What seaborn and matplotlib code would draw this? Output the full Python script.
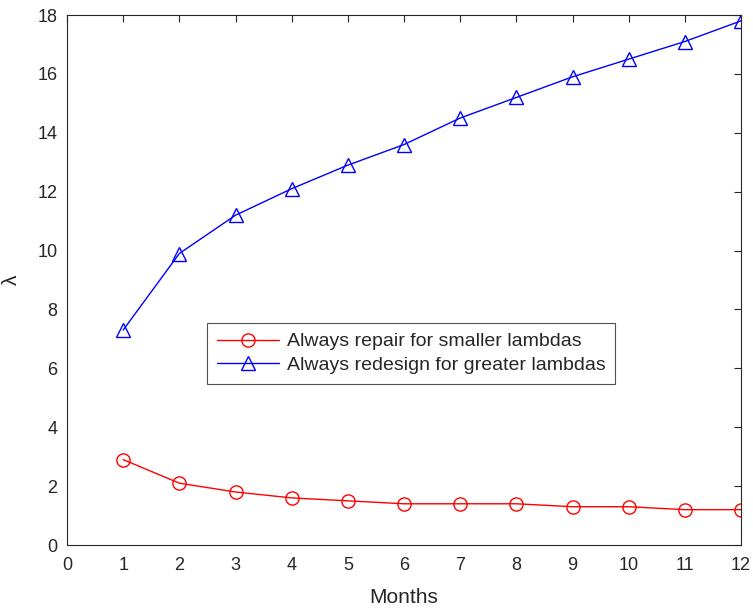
import matplotlib
matplotlib.use("Agg")
import matplotlib.pyplot as plt
import seaborn as sns
import pandas as pd

months = [1, 2, 3, 4, 5, 6, 7, 8, 9, 10, 11, 12]
repair = [2.9, 2.1, 1.8, 1.6, 1.5, 1.4, 1.4, 1.4, 1.3, 1.3, 1.2, 1.2]
redesign = [7.3, 9.9, 11.2, 12.1, 12.9, 13.6, 14.5, 15.2, 15.9, 16.5, 17.1, 17.8]
labels = ["Always repair for smaller lambdas", "Always redesign for greater lambdas"]
x_ticks = list(range(0, 13))
y_ticks = list(range(0, 19, 2))

sns.set_style("white")
plt.rcParams['font.family'] = ['Liberation Sans', 'DejaVu Sans']

df = pd.DataFrame({
    "Months": months * 2,
    "value": repair + redesign,
    "series": [labels[0]] * len(months) + [labels[1]] * len(months),
})

fig = plt.figure(figsize=(7.53, 6.09), dpi=100)
ax = fig.add_axes([67 / 753, 1 - 545 / 609, (741 - 67) / 753, (545 - 15) / 609])

palette = {labels[0]: "#ff0000", labels[1]: "#0000ff"}
markers = {labels[0]: "o", labels[1]: "^"}
sns.lineplot(data=df, x="Months", y="value", hue="series", style="series",
             palette=palette, markers=markers, dashes=False, ax=ax,
             markersize=9.5, markerfacecolor="none", linewidth=1.0,
             markeredgewidth=1.0)
for line in ax.lines:
    line.set_markerfacecolor("none")
    line.set_markeredgecolor(line.get_color())

ax.set_xlim(0, 12)
ax.set_ylim(0, 18)
ax.set_xticks(x_ticks)
ax.set_yticks(y_ticks)
ax.tick_params(direction="in", length=5, width=0.8, top=True, right=True,
               labelsize=13, colors="#262626", labelcolor="#262626")
ax.tick_params(axis="x", pad=9)
ax.tick_params(axis="y", pad=7)
for s in ax.spines.values():
    s.set_color("#262626")
    s.set_linewidth(0.8)
ax.set_xlabel("Months", fontsize=15, color="#262626", labelpad=10)
ax.set_ylabel("λ", fontsize=15, color="#262626", labelpad=12)

leg = ax.legend(loc="upper left", bbox_to_anchor=((207 - 67) / 674, (545 - 323) / 530),
                fontsize=14, frameon=True, fancybox=False, borderaxespad=0,
                handlelength=3.2, handletextpad=0.4, labelspacing=0.3, borderpad=0.5)
leg.get_frame().set_edgecolor("#262626")
leg.get_frame().set_linewidth(0.8)
for h in leg.legend_handles:
    h.set_markerfacecolor("none")

fig.savefig("out.png", dpi=100)
